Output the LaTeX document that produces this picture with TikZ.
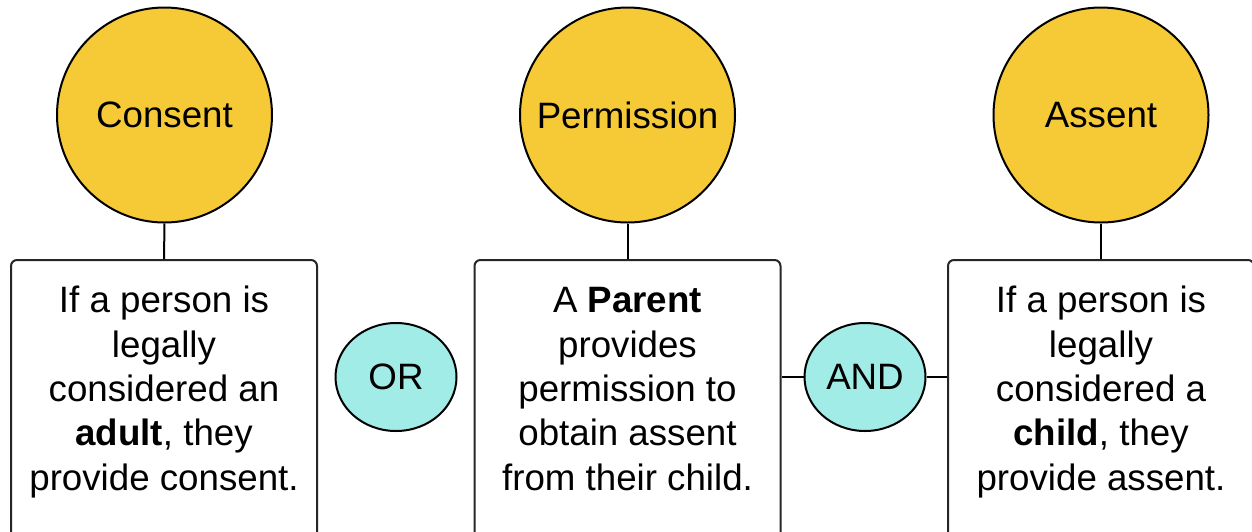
\documentclass[tikz,border=0pt]{standalone}
\usepackage{fontspec}
\setmainfont{Liberation Sans}
\usetikzlibrary{shapes.geometric}
\definecolor{topicyellow}{HTML}{F6C937}
\definecolor{logiccyan}{HTML}{A1ECE6}
\begin{document}
\begin{tikzpicture}[x=1pt,y=-1pt,
  bigfont/.style={font=\fontsize{36.7}{44.3}\selectfont},
  topic/.style={circle,draw=black,line width=2pt,fill=topicyellow,minimum size=215pt,inner sep=0pt,bigfont},
  infobox/.style={draw=black!85,line width=2pt,rounded corners=6pt,minimum width=306pt,minimum height=290pt,inner sep=0pt},
  infotext/.style={align=center,bigfont,anchor=base,inner sep=0pt},
  logic/.style={ellipse,draw=black,line width=2pt,fill=logiccyan,minimum width=121pt,minimum height=108pt,inner sep=0pt,bigfont},
  link/.style={line width=2pt}]
\useasboundingbox (0,0) rectangle (1252,531);
\clip (0,0) rectangle (1252,531);
\fill[white] (0,0) rectangle (1252,531);
% topic circles
\node[topic] (consent) at (164.5,115) {Consent};
\node[topic] (permission) at (627.5,115) {Permission};
\node[topic] (assent) at (1101,115) {Assent};
% boxes
\node[infobox] (lbox) at (164,405) {};
\node[infobox] (mbox) at (627.5,405) {};
\node[infobox] (rbox) at (1101,405) {};
\node[infotext] (ltext) at (164,490) {If a person is\\legally\\considered an\\\textbf{adult}, they\\provide consent.};
\node[infotext] (mtext) at (627.5,490) {A \textbf{Parent}\\provides\\permission to\\obtain assent\\from their child.};
\node[infotext] (rtext) at (1101,490) {If a person is\\legally\\considered a\\\textbf{child}, they\\provide assent.};
% logic ellipses
\node[logic] (or) at (396,377) {OR};
\node[logic] (and) at (865,377) {AND};
% connectors
\draw[link] (consent.south) -- (lbox.north);
\draw[link] (permission.south) -- (mbox.north);
\draw[link] (assent.south) -- (rbox.north);
\draw[link] (and.west) -- (and.west -| mbox.east);
\draw[link] (and.east) -- (and.east -| rbox.west);
\end{tikzpicture}
\end{document}
